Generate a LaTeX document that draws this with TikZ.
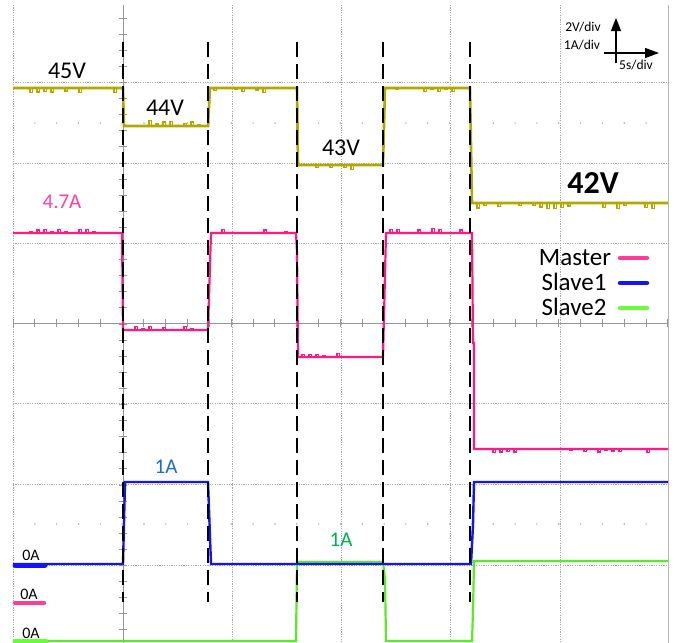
\documentclass[tikz,border=0pt]{standalone}
\usepackage{fontspec}
\setmainfont{Carlito}
\usetikzlibrary{arrows.meta}
\definecolor{volt}{RGB}{178,168,0}
\definecolor{mast}{RGB}{255,25,135}
\definecolor{mastl}{RGB}{255,60,150}
\definecolor{sl1}{RGB}{20,20,250}
\definecolor{sl2}{RGB}{90,235,40}
\definecolor{sl2l}{RGB}{110,250,60}
\definecolor{gridc}{RGB}{165,165,165}
\definecolor{axisc}{RGB}{150,150,150}
\definecolor{lblblue}{RGB}{30,110,200}
\definecolor{lblgreen}{RGB}{0,176,80}
\definecolor{lblpink}{RGB}{255,64,160}
\newcommand\noiz[5]{%
  \pgfmathsetmacro\na{#2+3}\pgfmathsetmacro\nb{#2+10}\pgfmathsetmacro\nc{#3-3}%
  \foreach \xx in {\na,\nb,...,\nc}{%
    \pgfmathsetmacro\rr{rnd}%
    \ifdim\rr pt<0.45pt
      \pgfmathsetmacro\hh{#5*(0.4+rnd)}%
      \draw[#1,line width=1.2pt] (\xx,#4) -- ++(0,\hh) -- ++(2.5,0) -- ++(0,-\hh);
    \fi
  }%
}
\begin{document}
\begin{tikzpicture}[x=1pt,y=-1pt,
  gridline/.style={gridc,line width=0.8pt,dash pattern=on 1.2pt off 1.2pt},
  axisline/.style={axisc,line width=1pt},
  markline/.style={black,line width=2pt,dash pattern=on 15pt off 7pt},
  vtrace/.style={volt,line width=2.6pt,line join=miter},
  mtrace/.style={mast,line width=2.2pt},
  btrace/.style={sl1,line width=2.4pt},
  gtrace/.style={sl2,line width=2.2pt},
  big/.style={font=\fontsize{24}{28}\selectfont},
  mid/.style={font=\fontsize{21}{25}\selectfont},
  leg/.style={font=\fontsize{25}{29}\selectfont},
  small/.style={font=\fontsize{16}{19}\selectfont},
  tiny/.style={font=\fontsize{13.5}{16}\selectfont},
  legline/.style={line width=4.5pt,line cap=round}]
\useasboundingbox (0,0) rectangle (678,643);
\fill[white] (0,0) rectangle (678,643);
% grid
\foreach \x in {13,232,341,450,560} \draw[gridline] (\x,5) -- (\x,643);
\draw[gridc!80,line width=1pt] (668,5) -- (668,643);
\foreach \y in {82,163,243,403,484,565} \draw[gridline] (13,\y) -- (668,\y);
\foreach \y in {123,524} \foreach \i in {1,...,29} \fill[gridc] (13+\i*21.83,\y) circle (0.8);
% axes
\draw[axisline] (13,323) -- (668,323);
\foreach \i in {0,...,30} \draw[axisline] (13+\i*21.83,319) -- (13+\i*21.83,327);
\draw[axisline] (123,5) -- (123,643);
\foreach \i in {1,...,39} \draw[axisline] (119,2+\i*16.1) -- (127,2+\i*16.1);
% scale arrows
\draw[line width=1.2pt,-{Triangle[length=13pt,width=10pt]}] (616,63) -- (616,18);
\draw[line width=1.2pt,-{Triangle[length=14pt,width=10pt]}] (604,53) -- (659,53);
\node[tiny] (vdiv) at (583,27) {2V/div};
\node[tiny] (adiv) at (582,45) {1A/div};
\node[tiny] (sdiv) at (636,65) {5s/div};
% traces
\pgfmathsetseed{11}
\draw[vtrace] (13,88) -- (123,88) -- (124,126) -- (208,126) -- (210,88) -- (297,88) -- (298,165) -- (383,165) -- (385,88) -- (470,88) -- (472,203) -- (668,203);
\noiz{volt}{13}{120}{88}{4}
\noiz{volt}{125}{206}{126}{-4}
\noiz{volt}{211}{295}{88}{4}
\noiz{volt}{299}{381}{165}{4}
\noiz{volt}{386}{468}{88}{3}
\noiz{volt}{474}{665}{203}{4}
\draw[mtrace] (13,233) -- (122,233) -- (123,330) -- (208,330) -- (211,233) -- (296,233) -- (297,252) -- (298,357) -- (383,357) -- (386,233) -- (472,233) -- (473,343) -- (474,343) -- (474,449) -- (668,449);
\noiz{mast}{13}{120}{233}{-3}
\noiz{mast}{125}{206}{330}{-3}
\noiz{mast}{212}{294}{233}{-3}
\noiz{mast}{299}{381}{357}{-3}
\noiz{mast}{387}{469}{233}{-3}
\noiz{mast}{476}{666}{449}{3}
\draw[gtrace] (13,641) -- (296,641) -- (297,562) -- (383,562) -- (385,579) -- (386,641) -- (472,641) -- (473,611) -- (474,561) -- (668,561);
\draw[btrace] (13,564) -- (123,564) -- (125,482) -- (208,482) -- (211,564) -- (471,564) -- (473,525) -- (474,482) -- (668,482);
% markers
\draw[legline,sl1,line width=5pt] (15,565) -- (45,565);
\draw[legline,mastl,line width=4.5pt] (15,603) -- (44,603);
\draw[legline,sl2l,line width=4.5pt] (15,641.5) -- (46,641.5);
% dashed markers
\foreach \x in {123,208,297,383,470} \draw[markline] (\x,42) -- (\x,602);
% labels
\node[big] (v45) at (67,71) {45V};
\node[big] (v44) at (165,108) {44V};
\node[big] (v43) at (341,148) {43V};
\node[font=\fontsize{32}{36}\selectfont\bfseries] (v42) at (593,183) {42V};
\node[mid,text=lblpink] (a47) at (62,202) {4.7A};
\node[mid,text=lblblue] (a1b) at (166,467) {1A};
\node[mid,text=lblgreen] (a1g) at (341,540) {1A};
\node[small] (z1) at (31,555) {0A};
\node[small] (z2) at (29,594) {0A};
\node[small] (z3) at (31,633) {0A};
% legend
\node[leg] (lm) at (575,258) {Master};
\node[leg] (ls1) at (574,282) {Slave1};
\node[leg] (ls2) at (574,307) {Slave2};
\draw[legline,mastl] (620,258) -- (647,258);
\draw[legline,sl1] (620,283) -- (647,283);
\draw[legline,sl2l] (620,308) -- (647,308);
\end{tikzpicture}
\end{document}
